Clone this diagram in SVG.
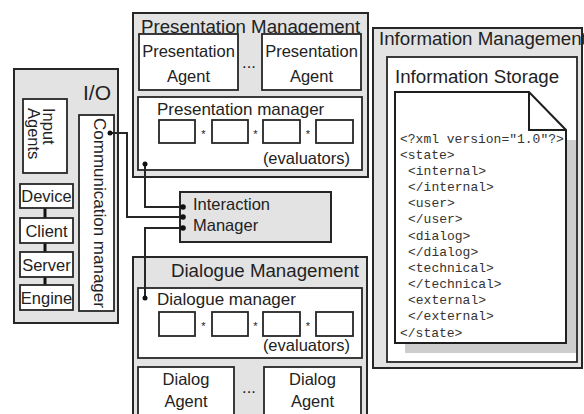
<svg xmlns="http://www.w3.org/2000/svg" width="584" height="414" viewBox="0 0 584 414">
  <style>
    .grp { fill: #e3e3e3; stroke: #262626; stroke-width: 2; }
    .box { fill: #ffffff; stroke: #262626; stroke-width: 1.8; }
    .t { font-family: "Liberation Sans", Arial, sans-serif; font-size: 16.5px; fill: #222; }
    .sub { font-family: "Liberation Sans", Arial, sans-serif; font-size: 17px; fill: #222; }
    .title { font-family: "Liberation Sans", Arial, sans-serif; font-size: 18.7px; fill: #222; }
    .mid { text-anchor: middle; }
    .star { font-family: "Liberation Sans", Arial, sans-serif; font-size: 11px; fill: #222; text-anchor: middle; }
    .code { font-family: "Liberation Mono", "Courier New", monospace; font-size: 13px; fill: #333; }
    .wire { fill: none; stroke: #262626; stroke-width: 2; }
    .dot { fill: #111; }
    .link { stroke: #111; stroke-width: 3; }
  </style>
  <rect width="584" height="414" fill="#ffffff"/>

  <!-- I/O -->
  <g id="io">
    <rect class="grp" x="14" y="69" width="104" height="254"/>
    <text class="t" x="83" y="100" style="font-size:21px">I/O</text>
    <rect class="box" x="23" y="99" width="44" height="74"/>
    <g transform="translate(43,108) rotate(90)">
      <text class="t" x="0" y="0">Input</text>
      <text class="t" x="0" y="15">Agents</text>
    </g>
    <rect class="box" x="79" y="115" width="35" height="196"/>
    <text class="sub" transform="translate(94,118) rotate(90)">Communication manager</text>
    <line class="link" x1="45" y1="208" x2="45" y2="218"/>
    <line class="link" x1="45" y1="243" x2="45" y2="252"/>
    <line class="link" x1="45" y1="277" x2="45" y2="285"/>
    <rect class="box" x="20" y="184" width="53" height="24"/>
    <text class="t mid" x="46.5" y="202">Device</text>
    <rect class="box" x="20" y="218" width="53" height="25"/>
    <text class="t mid" x="46.5" y="237">Client</text>
    <rect class="box" x="20" y="252" width="53" height="25"/>
    <text class="t mid" x="46.5" y="271">Server</text>
    <rect class="box" x="20" y="285" width="53" height="25"/>
    <text class="t mid" x="46.5" y="304">Engine</text>
  </g>

  <!-- Presentation Management -->
  <g id="presentation">
    <rect class="grp" x="133" y="13" width="235" height="164"/>
    <text class="title" x="141" y="33">Presentation Management</text>
    <rect class="box" x="139" y="34" width="99" height="56"/>
    <text class="t mid" x="188.5" y="57">Presentation</text>
    <text class="t mid" x="188.5" y="82">Agent</text>
    <text class="t mid" x="249" y="68">...</text>
    <rect class="box" x="262" y="34" width="99" height="56"/>
    <text class="t mid" x="311.5" y="57">Presentation</text>
    <text class="t mid" x="311.5" y="82">Agent</text>
    <rect class="box" x="138" y="97" width="224" height="73"/>
    <text class="sub" x="157" y="115">Presentation manager</text>
    <rect class="box" x="159" y="120" width="36" height="23"/>
    <rect class="box" x="212" y="120" width="36" height="23"/>
    <rect class="box" x="263" y="120" width="37" height="23"/>
    <rect class="box" x="316" y="120" width="37" height="23"/>
    <text class="star" x="203.5" y="138">*</text>
    <text class="star" x="255.5" y="138">*</text>
    <text class="star" x="308" y="138">*</text>
    <text class="t" x="350" y="164" text-anchor="end">(evaluators)</text>
  </g>

  <!-- Interaction Manager -->
  <g id="interaction">
    <rect class="grp" x="180" y="192" width="151" height="50"/>
    <text class="t" x="193" y="210">Interaction</text>
    <text class="t" x="193" y="231">Manager</text>
  </g>

  <!-- Dialogue Management -->
  <g id="dialogue">
    <rect class="grp" x="133" y="257" width="234" height="170"/>
    <text class="title" x="359" y="277" text-anchor="end">Dialogue Management</text>
    <rect class="box" x="138" y="288" width="224" height="70"/>
    <text class="sub" x="157" y="305">Dialogue manager</text>
    <rect class="box" x="159" y="312" width="36" height="24"/>
    <rect class="box" x="212" y="312" width="36" height="24"/>
    <rect class="box" x="263" y="312" width="37" height="24"/>
    <rect class="box" x="316" y="312" width="37" height="24"/>
    <text class="star" x="203.5" y="330">*</text>
    <text class="star" x="255.5" y="330">*</text>
    <text class="star" x="308" y="330">*</text>
    <text class="t" x="350" y="351" text-anchor="end">(evaluators)</text>
    <rect class="box" x="138" y="367" width="96" height="50"/>
    <text class="t mid" x="186" y="385">Dialog</text>
    <text class="t mid" x="186" y="407">Agent</text>
    <text class="t mid" x="249" y="393">...</text>
    <rect class="box" x="264" y="367" width="97" height="50"/>
    <text class="t mid" x="312.5" y="385">Dialog</text>
    <text class="t mid" x="312.5" y="407">Agent</text>
  </g>

  <!-- Information Management -->
  <g id="information">
    <rect class="grp" x="373" y="28" width="209" height="340"/>
    <text class="title" x="379" y="45">Information Management</text>
    <rect class="box" x="387" y="57" width="190" height="305"/>
    <text class="title" x="395" y="83">Information Storage</text>
    <rect x="405" y="140" width="171" height="213" fill="#cdcdcd"/>
    <path d="M395,92 H529 L566,130 V343 H395 Z" fill="#ffffff" stroke="#1e1e1e" stroke-width="2"/>
    <path d="M529,92 V130 H566" fill="none" stroke="#1e1e1e" stroke-width="2"/>
    <text class="code" x="400" y="143">&lt;?xml version="1.0"?&gt;</text>
    <text class="code" x="400" y="159">&lt;state&gt;</text>
    <text class="code" x="408" y="175">&lt;internal&gt;</text>
    <text class="code" x="408" y="191">&lt;/internal&gt;</text>
    <text class="code" x="408" y="207">&lt;user&gt;</text>
    <text class="code" x="408" y="223">&lt;/user&gt;</text>
    <text class="code" x="408" y="240">&lt;dialog&gt;</text>
    <text class="code" x="408" y="256">&lt;/dialog&gt;</text>
    <text class="code" x="408" y="272">&lt;technical&gt;</text>
    <text class="code" x="408" y="288">&lt;/technical&gt;</text>
    <text class="code" x="408" y="304">&lt;external&gt;</text>
    <text class="code" x="408" y="320">&lt;/external&gt;</text>
    <text class="code" x="400" y="337">&lt;/state&gt;</text>
  </g>

  <!-- connectors -->
  <g id="connectors">
    <path class="wire" d="M145,164 V207 H183"/>
    <path class="wire" d="M110,133 H127 V217 H183"/>
    <path class="wire" d="M145,298 V228 H183"/>
    <circle class="dot" cx="145" cy="164" r="2.5"/>
    <circle class="dot" cx="110" cy="133" r="2.5"/>
    <circle class="dot" cx="145" cy="298" r="2.5"/>
    <circle class="dot" cx="183" cy="207" r="2.8"/>
    <circle class="dot" cx="183" cy="217" r="2.8"/>
    <circle class="dot" cx="183" cy="228" r="2.8"/>
  </g>
</svg>
